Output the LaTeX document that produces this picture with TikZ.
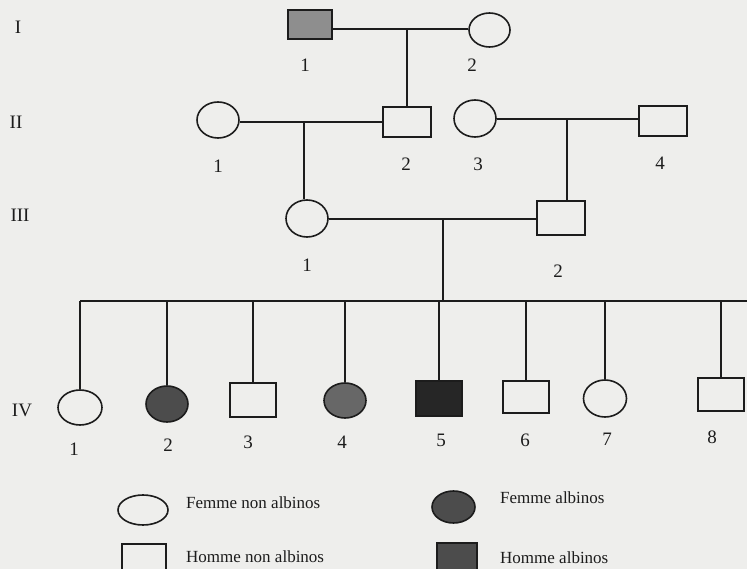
\documentclass[tikz,border=0pt]{standalone}
\usepackage{fontspec}
\setmainfont{Liberation Serif}
\usetikzlibrary{shapes.geometric}
\definecolor{paper}{HTML}{EEEEEC}
\definecolor{ink}{HTML}{1C1C1C}
\definecolor{lightaff}{HTML}{8E8E8E}
\definecolor{darkaff}{HTML}{4C4C4C}
\definecolor{deepaff}{HTML}{262626}
\tikzset{
  male/.style={rectangle,draw=ink,line width=1.6pt,inner sep=0pt,
    minimum width=46pt,minimum height=32pt},
  female/.style={ellipse,draw=ink,line width=1.6pt,inner sep=0pt,
    minimum width=42pt,minimum height=36pt},
  link/.style={draw=ink,line width=1.6pt},
  num/.style={font=\fontsize{19}{19}\selectfont,text=ink,inner sep=0pt},
  gen/.style={font=\fontsize{19}{19}\selectfont,text=ink,inner sep=0pt},
  keytext/.style={font=\fontsize{17}{17}\selectfont,text=ink,inner sep=0pt,anchor=west}
}
\begin{document}
\begin{tikzpicture}[x=1pt,y=-1pt]
\fill[paper] (0,0) rectangle (747,569);
\useasboundingbox (0,0) rectangle (747,569);
\clip (0,0) rectangle (747,569);

% generation labels
\node[gen] (gI)   at (18,27)  {I};
\node[gen] (gII)  at (16,122) {II};
\node[gen] (gIII) at (20,215) {III};
\node[gen] (gIV)  at (22,410) {IV};

% generation I
\node[male,fill=lightaff,minimum width=44pt,minimum height=29pt] (I1) at (310,24.5) {};
\node[female,minimum width=41pt,minimum height=34pt] (I2) at (489.5,30) {};
\node[num] (nI1) at (305,65) {1};
\node[num] (nI2) at (472,65) {2};

% generation II
\node[female] (II1) at (218,120) {};
\node[male,minimum width=48pt,minimum height=30pt] (II2) at (407,122) {};
\node[female,minimum height=37pt] (II3) at (475,118.5) {};
\node[male,minimum width=48pt,minimum height=30pt] (II4) at (663,121) {};
\node[num] (nII1) at (218,166) {1};
\node[num] (nII2) at (406,164) {2};
\node[num] (nII3) at (478,164) {3};
\node[num] (nII4) at (660,163) {4};

% generation III
\node[female,minimum height=37pt] (III1) at (307,218.5) {};
\node[male,minimum width=48pt,minimum height=34pt] (III2) at (561,218) {};
\node[num] (nIII1) at (307,265) {1};
\node[num] (nIII2) at (558,271) {2};

% generation IV
\node[female,minimum width=44pt,minimum height=35pt] (IV1) at (80,407.5) {};
\node[female,fill=darkaff] (IV2) at (167,404) {};
\node[male,minimum width=46pt,minimum height=34pt] (IV3) at (253,400) {};
\node[female,fill=darkaff!85,minimum height=35pt] (IV4) at (345,400.5) {};
\node[male,fill=deepaff,minimum width=46pt,minimum height=35pt] (IV5) at (439,398.5) {};
\node[male,minimum width=46pt,minimum height=32pt] (IV6) at (526,397) {};
\node[female,minimum width=43pt,minimum height=37pt] (IV7) at (605,398.5) {};
\node[male,minimum width=46pt,minimum height=33pt] (IV8) at (721,394.5) {};
\node[num] (nIV1) at (74,449) {1};
\node[num] (nIV2) at (168,445) {2};
\node[num] (nIV3) at (248,442) {3};
\node[num] (nIV4) at (342,442) {4};
\node[num] (nIV5) at (441,440) {5};
\node[num] (nIV6) at (525,440) {6};
\node[num] (nIV7) at (607,439) {7};
\node[num] (nIV8) at (712,437) {8};

% mating and descent points
\coordinate (m1) at (407,29);
\coordinate (m2) at (304,122);
\coordinate (m3) at (567,119);
\coordinate (m4) at (443,219);
\coordinate (s)  at (443,301);
\coordinate (sR) at (747,301);

% generation I -> II
\draw[link] (I1.east |- m1) -- (I2.west |- m1);
\draw[link] (m1) -- (II2.north);

% generation II -> III
\draw[link] (II1.east |- m2) -- (II2.west |- m2);
\draw[link] (m2) -- (m2 |- III1.north);
\draw[link] (II3.east |- m3) -- (II4.west |- m3);
\draw[link] (m3) -- (m3 |- III2.north);

% generation III -> IV
\draw[link] (III1.east |- m4) -- (III2.west |- m4);
\draw[link] (m4) -- (s);
\draw[link] (IV1 |- s) -- (sR);
\foreach \c in {IV1,IV2,IV3,IV4,IV5,IV6,IV7,IV8}
  \draw[link] (\c |- s) -- (\c.north);

% key
\node[female,minimum width=50pt,minimum height=30pt] (kF) at (143,510) {};
\node[keytext] (tF) at (186,503) {Femme non albinos};
\node[female,fill=darkaff,minimum width=43pt,minimum height=32pt] (kFA) at (453.5,507) {};
\node[keytext] (tFA) at (500,498) {Femme albinos};
\node[male,minimum width=44pt,minimum height=30pt,anchor=north] (kM) at (144,543) {};
\node[keytext] (tM) at (186,557) {Homme non albinos};
\node[male,fill=darkaff,minimum width=40pt,minimum height=30pt,anchor=north] (kMA) at (457,542) {};
\node[keytext] (tMA) at (500,558) {Homme albinos};
\end{tikzpicture}
\end{document}
